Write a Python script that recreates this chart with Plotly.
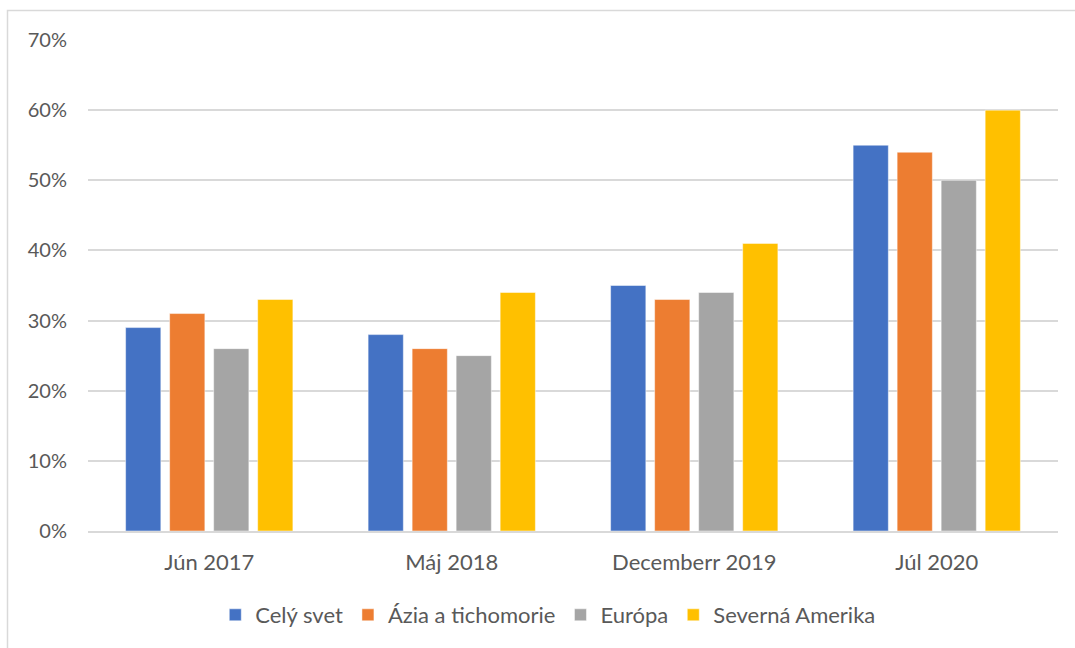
import plotly.graph_objects as go

categories = ["Jún 2017", "Máj 2018", "Decemberr 2019", "Júl 2020"]
series_names = ["Celý svet", "Ázia a tichomorie", "Európa", "Severná Amerika"]
cely_svet = [0.29, 0.28, 0.35, 0.55]
azia = [0.31, 0.26, 0.33, 0.54]
europa = [0.26, 0.25, 0.34, 0.50]
sev_amerika = [0.33, 0.34, 0.41, 0.60]
colors = ["#4472C4", "#ED7D31", "#A5A5A5", "#FFC000"]
y_ticks = [0, 0.1, 0.2, 0.3, 0.4, 0.5, 0.6, 0.7]

W, H = 1075, 648
ml, mr, mt, mb = 88, 17, 40, 117
pw = W - ml - mr
ph = H - mt - mb

fig = go.Figure()
for name, vals, col in zip(series_names, [cely_svet, azia, europa, sev_amerika], colors):
    fig.add_trace(go.Bar(
        name=name, x=categories, y=vals,
        marker=dict(color=col, line=dict(color="rgba(255,255,255,0.6)", width=0.8)),
    ))

font_family = "Lato, 'Open Sans', sans-serif"
fig.update_layout(
    width=W, height=H,
    margin=dict(l=ml, r=mr, t=mt, b=mb),
    paper_bgcolor="white", plot_bgcolor="white",
    barmode="group", bargap=0.274, bargroupgap=0.2,
    font=dict(family=font_family, size=22, color="#595959"),
    showlegend=True,
    legend=dict(orientation="h", x=0.474, xanchor="center", y=(531 - 615) / ph, yanchor="middle",
                font=dict(size=22, color="#595959"), itemwidth=30,
                traceorder="normal", tracegroupgap=0),
    xaxis=dict(showgrid=False, showline=True, linecolor="#D9D9D9", linewidth=1.5,
               ticks="", ticklabelstandoff=11, tickfont=dict(size=22, color="#595959")),
    yaxis=dict(range=[0, 0.7], tickvals=y_ticks, tickformat=".0%",
               showgrid=True, gridcolor="#D9D9D9", gridwidth=1.5,
               zeroline=False, showline=False, ticks="", ticklabelstandoff=20,
               tickfont=dict(size=20, color="#595959")),
    shapes=[dict(type="rect", xref="paper", yref="paper",
                 x0=(7.5 - ml) / pw, x1=2, y0=-2, y1=1 + (mt - 10.5) / ph,
                 line=dict(color="#D9D9D9", width=1.5), fillcolor="rgba(0,0,0,0)", layer="below")],
)

fig.write_html("out.html", config={"displayModeBar": False},
               post_script="document.body.style.margin='0';document.body.style.overflow='hidden';")
